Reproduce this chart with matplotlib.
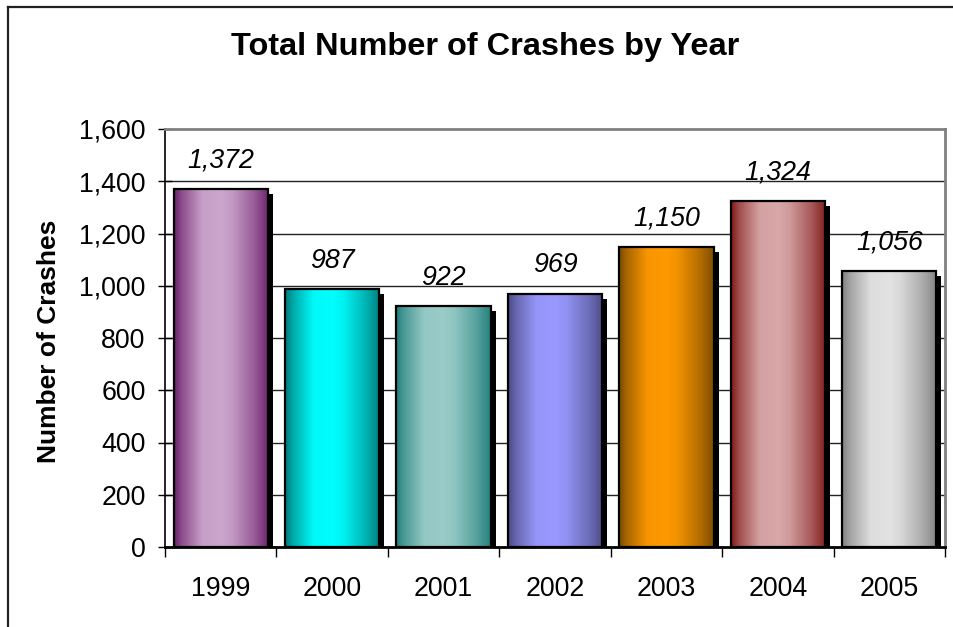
import matplotlib
matplotlib.use("Agg")
import matplotlib.pyplot as plt
import matplotlib.transforms as mtransforms
from matplotlib.patches import Rectangle
from matplotlib.lines import Line2D
from matplotlib.ticker import FixedLocator, FuncFormatter
import numpy as np
from matplotlib.colors import to_rgb

years = ["1999", "2000", "2001", "2002", "2003", "2004", "2005"]
crashes = [1372, 987, 922, 969, 1150, 1324, 1056]
dark_colors = ["#6A1E6A", "#007878", "#1E7E7A", "#4A4A82", "#7A4A00", "#801818", "#808080"]
light_colors = ["#CCA6CC", "#00FFFF", "#9ACCC8", "#9999FF", "#FF9900", "#D8A8A8", "#E2E2E2"]
yticks = [0, 200, 400, 600, 800, 1000, 1200, 1400, 1600]

plt.rcParams['font.family'] = ['Liberation Sans', 'DejaVu Sans']

W, H = 954, 627
fig = plt.figure(figsize=(W / 100, H / 100), dpi=100)
ax = fig.add_axes([165 / W, 1 - 547 / H, (945 - 165) / W, (547 - 129) / H])

ax.set_xlim(-0.5, len(years) - 0.5)
ax.set_ylim(0, 1600)

bar_w = 0.845
prof_x = np.array([0, 0.08, 0.3, 0.5, 0.62, 0.85, 1.0])
prof_v = np.array([0, 0.35, 0.95, 1.0, 0.9, 0.45, 0.05])
xs = np.linspace(0, 1, 200)
vals = np.interp(xs, prof_x, prof_v)

shadow_tr = mtransforms.offset_copy(ax.transData, fig=fig, x=5, y=-5, units='dots')

for i, (v, dc, lc) in enumerate(zip(crashes, dark_colors, light_colors)):
    x0 = i - bar_w / 2
    d = np.array(to_rgb(dc))
    l = np.array(to_rgb(lc))
    img = d[None, :] + (l - d)[None, :] * vals[:, None]
    img = img[None, :, :]
    ax.add_patch(Rectangle((x0, 0), bar_w, v, facecolor='black', edgecolor='none',
                           transform=shadow_tr, zorder=2, clip_on=True))
    ax.imshow(img, extent=(x0, x0 + bar_w, 0, v), aspect='auto', zorder=3,
              interpolation='bilinear')
    ax.add_patch(Rectangle((x0, 0), bar_w, v, facecolor='none', edgecolor='black',
                           linewidth=1.6, zorder=4))
    ax.annotate(f"{v:,}", xy=(i, v), xytext=(0, 20.5), textcoords='offset points',
                ha='center', va='center', fontsize=19.3, style='italic', zorder=5)

ax.set_xlim(-0.5, len(years) - 0.5)
ax.set_ylim(0, 1600)

for y in yticks[1:-1]:
    ax.axhline(y, color='#222222', linewidth=1.0, zorder=1)

ax.yaxis.set_major_locator(FixedLocator(yticks))
ax.yaxis.set_major_formatter(FuncFormatter(lambda v, p: f"{int(v):,}"))
ax.tick_params(axis='y', direction='inout', length=10, width=1, labelsize=19.3, pad=9)

ax.set_xticks(np.arange(len(years)))
ax.set_xticklabels(years)
ax.set_xticks(np.arange(len(years) + 1) - 0.5, minor=True)
ax.tick_params(axis='x', which='major', length=0, labelsize=19.3, pad=21)
ax.tick_params(axis='x', which='minor', direction='out', length=7, width=1)

ax.spines['left'].set_color('black')
ax.spines['left'].set_linewidth(1.2)
ax.spines['bottom'].set_color('black')
ax.spines['bottom'].set_linewidth(2)
ax.spines['top'].set_color('#808080')
ax.spines['top'].set_linewidth(2)
ax.spines['right'].set_color('#808080')
ax.spines['right'].set_linewidth(2)
for s in ax.spines.values():
    s.set_zorder(6)

fig.text(485 / W, 1 - 47 / H, "Total Number of Crashes by Year", ha='center', va='center',
         fontsize=23.4, fontweight='bold')
fig.text(49 / W, 1 - 341 / H, "Number of Crashes", ha='center', va='center',
         rotation=90, fontsize=19, fontweight='bold')

fig.add_artist(Line2D([8 / W, 8 / W], [0, 1 - 7 / H], transform=fig.transFigure,
                      color='#222222', linewidth=1.6))
fig.add_artist(Line2D([8 / W, 1], [1 - 7 / H, 1 - 7 / H], transform=fig.transFigure,
                      color='#222222', linewidth=1.6))

fig.savefig("out.png", dpi=100)
